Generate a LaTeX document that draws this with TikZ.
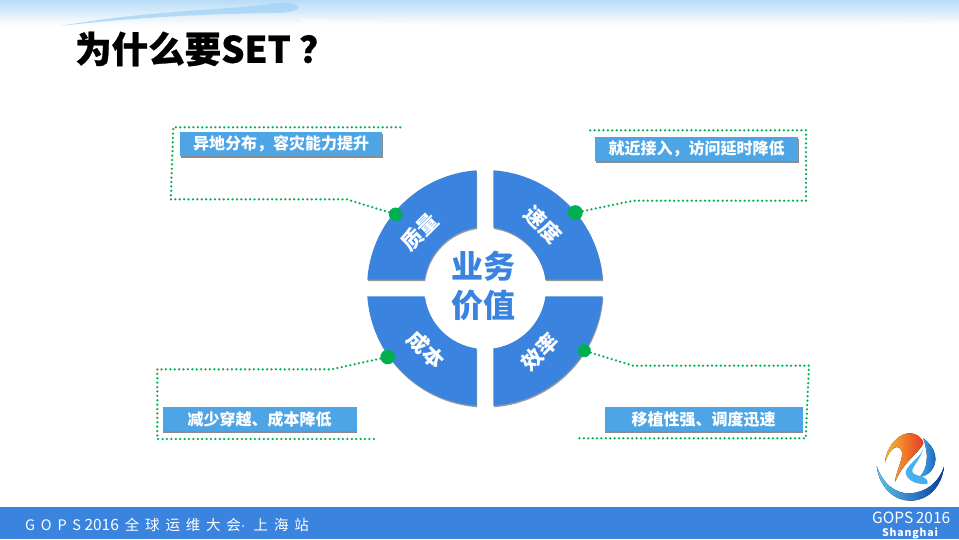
\documentclass[tikz,border=0pt]{standalone}
\usepackage{fontspec}
\setmainfont{Noto Sans CJK SC}
\newfontfamily\titlefont[BoldFeatures={FakeBold=0.7}]{Noto Sans CJK SC}
\newfontfamily\footsp[LetterSpace=40]{Noto Sans CJK SC}
\newfontfamily\latsp[LetterSpace=8]{Noto Sans CJK SC}
\newfontfamily\latfont{Liberation Sans}
\usetikzlibrary{shadows}
\definecolor{gopsblue}{HTML}{3A84E0}
\definecolor{boxblue}{HTML}{4EA5E6}
\definecolor{dotgreen}{HTML}{00B050}
\definecolor{bandblue}{HTML}{B8DCF7}
\definecolor{swoosh}{HTML}{A0D0F4}
\definecolor{ringlight}{HTML}{5AC3F0}
\definecolor{ringdark}{HTML}{0A3CA0}
\definecolor{flameyel}{HTML}{F5BE32}
\definecolor{flamered}{HTML}{E83C23}
\definecolor{swirllight}{HTML}{3CAAEB}
\definecolor{swirldark}{HTML}{1450B4}
\definecolor{bloblight}{HTML}{46AFF0}
\begin{document}
\begin{tikzpicture}[x=1pt,y=-1pt]
  \tikzstyle{lbox} = [fill=boxblue, text=white, font=\fontsize{16}{16}\selectfont\bfseries, inner sep=0pt, align=center,
    drop shadow={shadow xshift=0.6pt, shadow yshift=-1.8pt, fill=black, opacity=0.45}]
  \tikzstyle{seg} = [fill=gopsblue, drop shadow={shadow xshift=0.6pt, shadow yshift=-1.5pt, fill=black, opacity=0.4}]
  \tikzstyle{segtext} = [text=white, font=\fontsize{21}{21}\selectfont\bfseries, inner sep=0pt]
  \tikzstyle{gdot} = [circle, fill=dotgreen, inner sep=0pt]
  \tikzstyle{dotline} = [dotgreen, line width=2.5pt, line cap=round, dash pattern=on 0pt off 4.4pt]

  \useasboundingbox (0,0) rectangle (959,539);
  \fill[white] (0,0) rectangle (959,539);

  % top band
  \fill[top color=bandblue, bottom color=white] (0,0) rectangle (959,26);
  \fill[swoosh, opacity=0.7] (60,26) .. controls (150,10) and (230,10) .. (270,4) .. controls (285,1) and (300,3) .. (298,8) .. controls (295,13) and (280,13) .. (270,13) .. controls (200,14) and (130,18) .. (60,26) -- cycle;
  \fill[white, opacity=0.45] (300,18) .. controls (500,30) and (800,32) .. (959,20) -- (959,28) -- (300,28) -- cycle;

  % title
  \node[anchor=west, inner sep=0pt, font=\fontsize{36.5}{36}\titlefont\bfseries] (title) at (75,49) {为什么要SET ？};

  % footer
  \fill[gopsblue] (0,507) rectangle (959,539);
  \node[anchor=west, inner sep=0pt, text=white, font=\fontsize{14.5}{15}\selectfont] (foot) at (25,525)
    {{\footsp GOPS}\kern3.5pt{\fontsize{15.5}{15}\selectfont 2016}\kern6pt{\footsp 全球运维大会}{\latfont ·}\kern8pt{\footsp 上海站}};

  % ring
  \begin{scope}[shift={(485,288)}]
    \foreach \a in {0,90,180,270}
      \path[seg] (\a+4.1:118) arc[start angle=\a+4.1, end angle=\a+85.9, radius=118]
        -- (\a+82:61) arc[start angle=\a+82, end angle=\a+8, radius=61] -- cycle;
  \end{scope}

  \node[segtext, rotate=45] (quality) at (420,232) {质量};
  \node[segtext, rotate=-45] (speed) at (543,225) {速度};
  \node[segtext, rotate=-45] (cost) at (426,350) {成本};
  \node[segtext, rotate=45] (effic) at (540,352) {效率};
  \node[text=gopsblue, font=\fontsize{32}{39}\selectfont\bfseries, align=center, inner sep=0pt] (value) at (483,286) {业务\\价值};

  % label boxes
  \node[lbox, minimum width=202pt, minimum height=24pt] (boxq) at (281,144) {异地分布，容灾能力提升};
  \node[lbox, minimum width=203pt, minimum height=24pt] (boxs) at (696.5,149) {就近接入，访问延时降低};
  \node[lbox, minimum width=194pt, minimum height=24pt] (boxc) at (259.7,419) {减少穿越、成本降低};
  \node[lbox, minimum width=198pt, minimum height=24pt] (boxe) at (703.5,419) {移植性强、调度迅速};

  % green dots
  \node[gdot, minimum size=13.6pt] (dotq) at (395.7,214.3) {};
  \node[gdot, minimum size=15pt] (dots) at (575.3,212.7) {};
  \node[gdot, minimum size=14.6pt] (dotc) at (387.7,357) {};
  \node[gdot, minimum size=13pt] (dote) at (584.3,350.7) {};

  \coordinate (q1) at (346.7,199.3);
  \coordinate (q2) at (170.7,199.3);
  \coordinate (q3) at (173.3,127.3);
  \coordinate (q4) at (401.7,127.3);
  \coordinate (s1) at (633.3,200.7);
  \coordinate (s2) at (806,200.7);
  \coordinate (s3) at (806,130.3);
  \coordinate (s4) at (587.3,130.3);
  \coordinate (c1) at (331.7,369.3);
  \coordinate (c2) at (157.3,369.3);
  \coordinate (c3) at (157.3,439);
  \coordinate (c4) at (375,439);
  \coordinate (e1) at (633.3,365.7);
  \coordinate (e2) at (809,365.7);
  \coordinate (e3) at (805.7,438.3);
  \coordinate (e4) at (579,438.3);

  \draw[dotline] (dotq) -- (q1) -- (q2) -- (q3) -- (q4);
  \draw[dotline] (dots) -- (s1) -- (s2) -- (s3) -- (s4);
  \draw[dotline] (dotc) -- (c1) -- (c2) -- (c3) -- (c4);
  \draw[dotline] (dote) -- (e1) -- (e2) -- (e3) -- (e4);

  % logo
  \begin{scope}[shift={(840,420)}, scale=0.3333]
    \fill[left color=ringlight, right color=ringdark]
      (110,138) .. controls (118,205) and (165,242) .. (210,242) .. controls (265,242) and (305,200) .. (312,140)
      .. controls (295,190) and (255,218) .. (210,220) .. controls (165,222) and (128,190) .. (110,138) -- cycle;
    \fill[left color=flameyel, right color=flamered]
      (135,128) .. controls (138,80) and (175,42) .. (205,40) .. controls (228,38) and (250,55) .. (250,70)
      .. controls (240,95) and (190,125) .. (165,186) .. controls (168,150) and (200,100) .. (180,85)
      .. controls (165,72) and (145,95) .. (135,128) -- cycle;
    \fill[left color=swirllight, right color=swirldark]
      (250,55) .. controls (285,80) and (302,125) .. (268,158) .. controls (255,168) and (245,170) .. (240,170)
      .. controls (262,145) and (268,110) .. (250,55) -- cycle;
    \fill[bloblight] (250,85) .. controls (245,110) and (205,130) .. (197,155) .. controls (197,175) and (220,195) .. (262,192)
      .. controls (266,182) and (258,172) .. (240,168) .. controls (225,165) and (215,160) .. (217,150)
      .. controls (225,130) and (245,110) .. (250,85) -- cycle;
  \end{scope}
  \node[anchor=west, inner sep=0pt, text=white, font=\fontsize{15.5}{16}\selectfont] (gops) at (872,518) {GOPS\,2016};
  \node[anchor=center, inner sep=0pt, text=white, font=\fontsize{10.5}{11}\latsp\bfseries] (city) at (910,533) {Shanghai};
\end{tikzpicture}
\end{document}
